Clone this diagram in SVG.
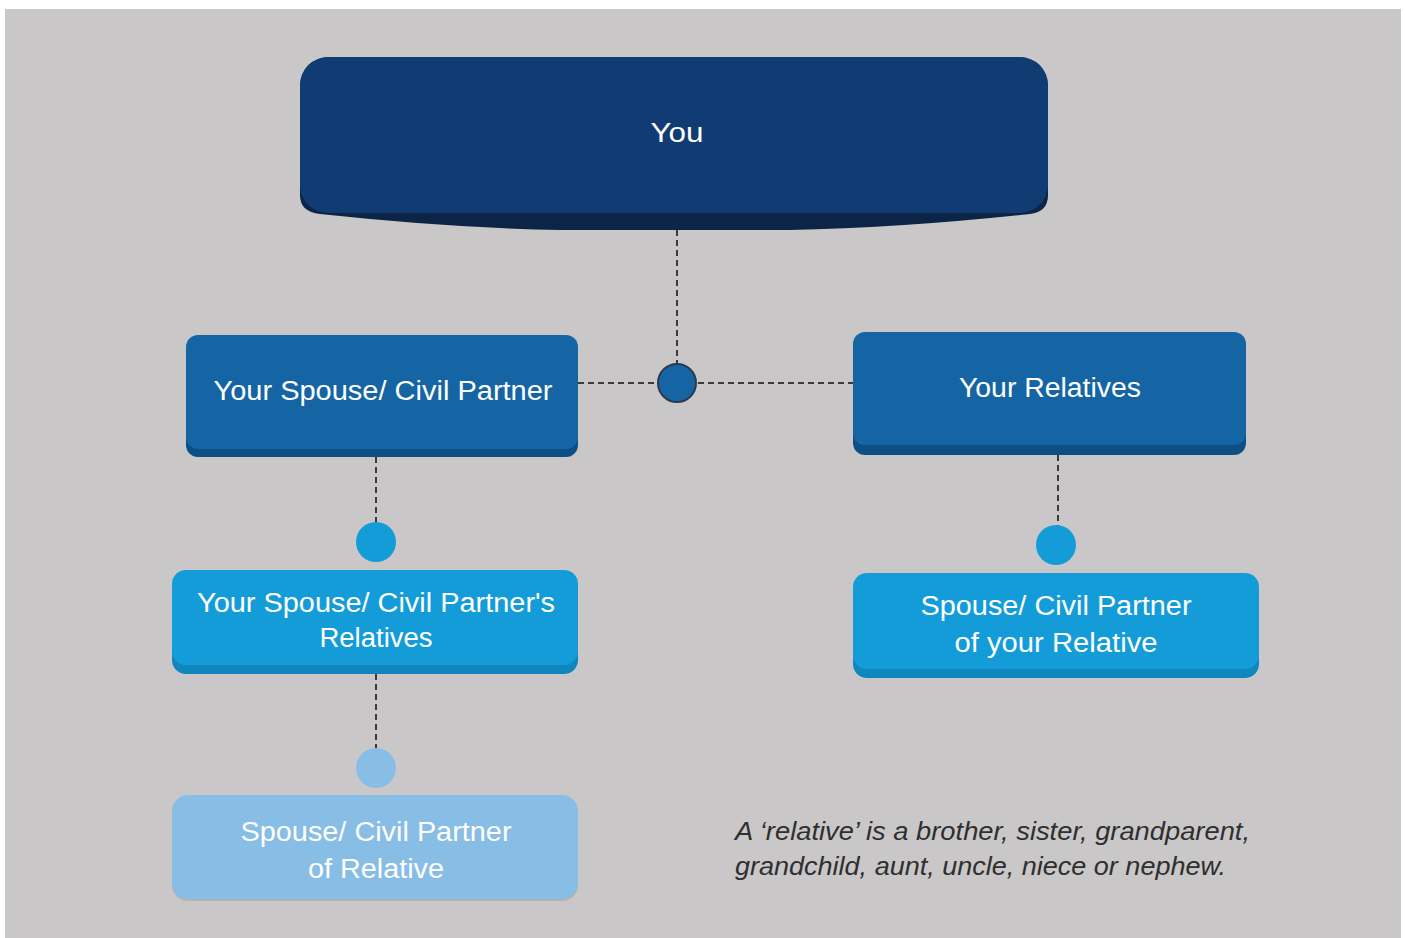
<svg xmlns="http://www.w3.org/2000/svg" width="1405" height="938" viewBox="0 0 1405 938">
<style>
.lbl{font-family:"Liberation Sans",Arial,sans-serif;font-size:27px;fill:#ffffff;text-anchor:middle}
.note{font-family:"Liberation Sans",Arial,sans-serif;font-style:italic;font-size:26px;fill:#2f2f2f}
.dash{stroke:#3a3a3a;stroke-width:2;stroke-dasharray:6,4;fill:none}
</style>
<rect x="0" y="0" width="1405" height="938" fill="#ffffff"/>
<rect x="5" y="9" width="1396" height="929" fill="#c9c7c8"/>
<g id="connectors">
<line class="dash" x1="677" y1="230" x2="677" y2="366"/>
<line class="dash" x1="578" y1="383" x2="853" y2="383"/>
<line class="dash" x1="376" y1="457" x2="376" y2="524"/>
<line class="dash" x1="376" y1="674" x2="376" y2="750"/>
<line class="dash" x1="1058" y1="455" x2="1058" y2="527"/>
<circle cx="677" cy="383" r="19" fill="#1565a5" stroke="#2b3b4f" stroke-width="2"/>
<circle cx="376" cy="542" r="20" fill="#149cd9"/>
<circle cx="376" cy="768" r="20" fill="#88bde6"/>
<circle cx="1056" cy="545" r="20" fill="#149cd9"/>
</g>
<g id="you">
<path d="M300 90 Q300 57 333 57 L1015 57 Q1048 57 1048 90 L1048 195 Q1048 212 1030 214 Q900 228 790 230 L560 230 Q450 228 320 214 Q300 212 300 195 Z" fill="#0c2446"/>
<rect x="300" y="57" width="748" height="156" rx="28" fill="#113b73"/>
<text class="lbl" x="677" y="142" textLength="53" lengthAdjust="spacingAndGlyphs">You</text>
</g>
<g id="spouse">
<rect x="186" y="340" width="392" height="117" rx="12" fill="#0d4f85"/>
<rect x="186" y="335" width="392" height="114" rx="12" fill="#1565a5"/>
<text class="lbl" x="383" y="400" textLength="339" lengthAdjust="spacingAndGlyphs">Your Spouse/ Civil Partner</text>
</g>
<g id="relatives">
<rect x="853" y="337" width="393" height="118" rx="12" fill="#0d4f85"/>
<rect x="853" y="332" width="393" height="113" rx="12" fill="#1565a5"/>
<text class="lbl" x="1050" y="397" textLength="182" lengthAdjust="spacingAndGlyphs">Your Relatives</text>
</g>
<g id="spouse-relatives">
<rect x="172" y="575" width="406" height="99" rx="14" fill="#0f86bd"/>
<rect x="172" y="570" width="406" height="95" rx="14" fill="#149cd9"/>
<text class="lbl" x="376" y="612" textLength="358" lengthAdjust="spacingAndGlyphs">Your Spouse/ Civil Partner's</text>
<text class="lbl" x="376" y="647" textLength="113" lengthAdjust="spacingAndGlyphs">Relatives</text>
</g>
<g id="relative-spouse">
<rect x="853" y="578" width="406" height="100" rx="14" fill="#0f86bd"/>
<rect x="853" y="573" width="406" height="96" rx="14" fill="#149cd9"/>
<text class="lbl" x="1056" y="615" textLength="271" lengthAdjust="spacingAndGlyphs">Spouse/ Civil Partner</text>
<text class="lbl" x="1056" y="652" textLength="203" lengthAdjust="spacingAndGlyphs">of your Relative</text>
</g>
<g id="relative-of-spouse">
<rect x="172" y="799" width="406" height="102" rx="16" fill="#9a9ea3" opacity="0.5"/>
<rect x="172" y="795" width="406" height="104" rx="16" fill="#88bde6"/>
<text class="lbl" x="376" y="841" textLength="271" lengthAdjust="spacingAndGlyphs">Spouse/ Civil Partner</text>
<text class="lbl" x="376" y="878" textLength="136" lengthAdjust="spacingAndGlyphs">of Relative</text>
</g>
<g id="note">
<text class="note" x="735" y="840" textLength="515" lengthAdjust="spacingAndGlyphs">A ‘relative’ is a brother, sister, grandparent,</text>
<text class="note" x="735" y="875" textLength="491" lengthAdjust="spacingAndGlyphs">grandchild, aunt, uncle, niece or nephew.</text>
</g>
</svg>
